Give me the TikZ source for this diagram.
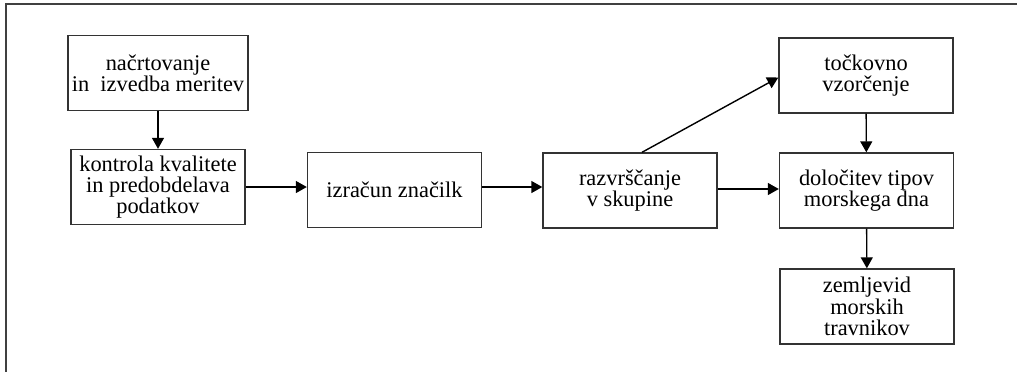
\documentclass[tikz,border=0pt]{standalone}
\usepackage{fontspec}
\setmainfont{Liberation Serif}
\usetikzlibrary{arrows.meta}
\begin{document}
\begin{tikzpicture}[x=0.5pt, y=-0.5pt, line width=0.7pt,
	main/.style = {draw=black!80, rectangle, minimum width=87pt, minimum height=37.5pt, align=center, inner sep=2pt, font=\fontsize{11.2}{10.6}\selectfont},
	arr/.style = {-{Triangle[length=5.5pt, width=6pt]}}]
	\useasboundingbox (0,0) rectangle (1017,372);
	\draw[black!75, line width=1pt] (1017,4) -- (6,4) -- (6,372);
	\node[main] (plan) at (158, 73) {načrtovanje\\in~ izvedba meritev};
	\node[main] (kontrola) at (158, 187) {kontrola kvalitete\\in predobdelava\\podatkov};
	\node[main] (znacilke) at (394.5, 190) {izračun značilk};
	\node[main] (skupine) at (630, 190.5) {razvrščanje\\v skupine};
	\node[main] (vzorci) at (866, 75.5) {točkovno\\vzorčenje};
	\node[main] (tipi) at (866.5, 190.5) {določitev tipov\\morskega dna};
	\node[main] (karta) at (867, 306.5) {zemljevid\\morskih\\travnikov};
	\draw[arr] (plan) -- (kontrola);
	\draw[arr] (kontrola.east) -- (kontrola.east -| znacilke.west);
	\draw[arr] (kontrola.east -| znacilke.east) -- (kontrola.east -| skupine.west);
	\draw[arr] ([yshift=-1pt]kontrola.east -| skupine.east) -- ([yshift=-1pt]kontrola.east -| tipi.west);
	\draw[arr] ([xshift=6pt]skupine.north) -- ([yshift=-1pt]vzorci.west);
	\draw[arr] (vzorci) -- (tipi);
	\draw[arr] (tipi) -- (karta);
\end{tikzpicture}
\end{document}
